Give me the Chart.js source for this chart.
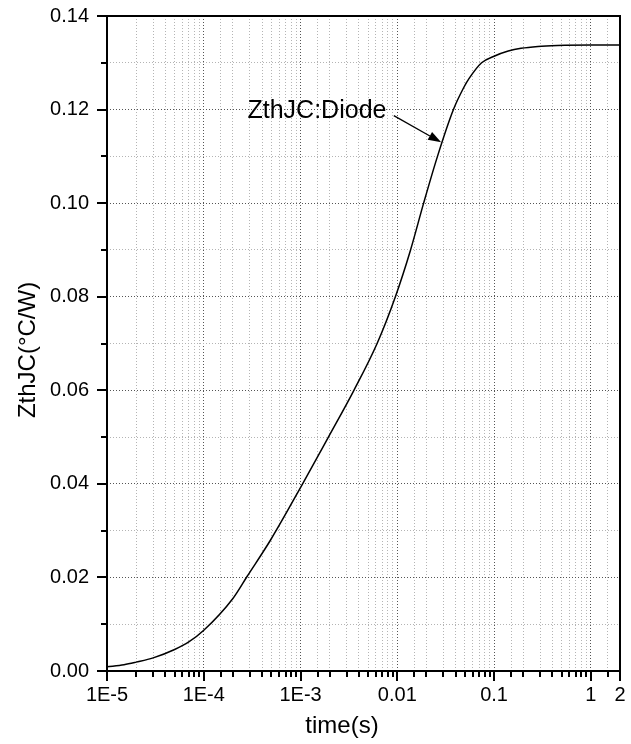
<!DOCTYPE html>
<html>
<head>
<meta charset="utf-8">
<script src="https://cdn.jsdelivr.net/npm/chart.js@4.4.0/dist/chart.umd.min.js"></script>
<style>
  html, body { margin: 0; padding: 0; background: #fff; }
  #wrap { width: 631px; height: 744px; position: relative; }
</style>
</head>
<body>
<div id="wrap"><canvas id="zth"></canvas></div>
<script>

// thermal impedance curve, junction to case (diode)
const times = [1e-5, 1.5e-5, 2e-5, 3e-5, 5e-5, 7e-5, 1e-4, 2e-4, 2.8e-4,
               4.9e-4, 1.05e-3, 1.94e-3, 3.56e-3, 6.18e-3, 9.55e-3, 0.0137, 0.0187,
               0.026, 0.038, 0.048, 0.055, 0.0743, 0.1, 0.14, 0.19, 0.284, 0.45, 1, 2]
const zth = [0.0009, 0.00135, 0.0019, 0.0028, 0.0046, 0.0062, 0.0087, 0.0155, 0.0202,
             0.0280, 0.040, 0.050, 0.060, 0.070, 0.080, 0.090, 0.100,
             0.110, 0.120, 0.1245, 0.1266, 0.1300, 0.1314, 0.1325, 0.1331, 0.1335, 0.1337, 0.1338, 0.1338]

// labelled ticks on the time axis
const xTickValues = [1e-5, 1e-4, 1e-3, 0.01, 0.1, 1, 2]
const xTickLabels = ['1E-5', '1E-4', '1E-3', '0.01', '0.1', '1', '2']

const seriesName = 'ZthJC:Diode'
const xTitle = 'time(s)'
const yTitle = 'ZthJC(°C/W)'

// callout: text anchor and arrow, in data units
const calloutText = [2.83e-4, 0.1182]
const arrowFrom = [9.2e-3, 0.1187]
const arrowTo = [0.0284, 0.1130]

const FONT = '"Liberation Sans", Arial, sans-serif'

function xLabel(v) {
  for (let i = 0; i < xTickValues.length; i++) {
    if (Math.abs(v / xTickValues[i] - 1) < 1e-6) return xTickLabels[i]
  }
  return ''
}
function isDecade(v) {
  const e = Math.log10(v)
  return Math.abs(e - Math.round(e)) < 1e-6
}
function yMajor(v) {
  return Math.round(v * 100) % 2 === 0
}

const extras = {
  id: 'extras',
  afterDraw(chart) {
    const ctx = chart.ctx
    const a = chart.chartArea
    const xs = chart.scales.x
    const ys = chart.scales.y
    ctx.save()

    // tick marks, outside
    ctx.strokeStyle = '#000'
    ctx.lineWidth = 2
    ctx.beginPath()
    xs.ticks.forEach(t => {
      const px = Math.round(xs.getPixelForValue(t.value))
      const len = (isDecade(t.value) || xLabel(t.value)) ? 10 : 6
      ctx.moveTo(px, a.bottom)
      ctx.lineTo(px, a.bottom + len)
    })
    ys.ticks.forEach(t => {
      const py = Math.round(ys.getPixelForValue(t.value))
      const len = yMajor(t.value) ? 10 : 6
      ctx.moveTo(a.left, py)
      ctx.lineTo(a.left - len, py)
    })
    ctx.stroke()

    // frame
    ctx.strokeRect(a.left, a.top, a.right - a.left, a.bottom - a.top)

    // axis titles
    ctx.fillStyle = '#000'
    ctx.font = '24px ' + FONT
    ctx.textAlign = 'center'
    ctx.textBaseline = 'middle'
    ctx.fillText(xTitle, 342, 726)
    ctx.save()
    ctx.translate(28, 350)
    ctx.rotate(-Math.PI / 2)
    ctx.fillText(yTitle, 0, 0)
    ctx.restore()

    // series callout with arrow
    ctx.font = '25px ' + FONT
    ctx.textAlign = 'left'
    ctx.textBaseline = 'alphabetic'
    ctx.fillText(seriesName, xs.getPixelForValue(calloutText[0]), ys.getPixelForValue(calloutText[1]))

    const x1 = xs.getPixelForValue(arrowFrom[0]), y1 = ys.getPixelForValue(arrowFrom[1])
    const x2 = xs.getPixelForValue(arrowTo[0]), y2 = ys.getPixelForValue(arrowTo[1])
    const ang = Math.atan2(y2 - y1, x2 - x1)
    const hl = 13, hw = 4.5
    const bx = x2 - hl * Math.cos(ang), by = y2 - hl * Math.sin(ang)
    ctx.lineWidth = 1.3
    ctx.beginPath()
    ctx.moveTo(x1, y1)
    ctx.lineTo(bx, by)
    ctx.stroke()
    ctx.beginPath()
    ctx.moveTo(x2, y2)
    ctx.lineTo(bx + hw * Math.sin(ang), by - hw * Math.cos(ang))
    ctx.lineTo(bx - hw * Math.sin(ang), by + hw * Math.cos(ang))
    ctx.closePath()
    ctx.fill()

    ctx.restore()
  }
}

const data = {
  labels: times,
  datasets: [{
    label: seriesName,
    data: times.map((t, i) => ({ x: t, y: zth[i] })),
    borderColor: '#000',
    borderWidth: 1.5,
    pointRadius: 0,
    fill: false,
    cubicInterpolationMode: 'monotone'
  }]
}

const config = {
  type: 'line',
  data: data,
  options: {
    responsive: true,
    maintainAspectRatio: false,
    animation: false,
    events: [],
    layout: { padding: { left: 0, right: 11, top: 16, bottom: 0 } },
    plugins: {
      legend: { display: false },
      tooltip: { enabled: false }
    },
    scales: {
      x: {
        type: 'logarithmic',
        min: 1e-5,
        max: 2,
        afterFit: s => { s.height = 73; s.paddingLeft = 0; s.paddingRight = 0 },
        border: { display: false, dash: [1, 2] },
        grid: {
          drawTicks: false,
          lineWidth: 1,
          color: c => (c.tick && isDecade(c.tick.value)) ? '#555' : '#b4b4b4'
        },
        ticks: {
          autoSkip: false,
          maxRotation: 0,
          padding: 12,
          color: '#000',
          font: { family: FONT, size: 20 },
          callback: v => xLabel(v)
        }
      },
      y: {
        min: 0,
        max: 0.14,
        afterFit: s => { s.width = 107; s.paddingTop = 0; s.paddingBottom = 0 },
        border: { display: false, dash: [1, 2] },
        grid: {
          drawTicks: false,
          lineWidth: 1,
          color: c => (c.tick && yMajor(c.tick.value)) ? '#555' : '#b4b4b4'
        },
        ticks: {
          stepSize: 0.01,
          padding: 18,
          color: '#000',
          font: { family: FONT, size: 20 },
          callback: v => yMajor(v) ? v.toFixed(2) : ''
        }
      }
    }
  },
  plugins: [extras]
}

const myChart = new Chart(document.getElementById('zth'), config)
</script>
</body>
</html>
